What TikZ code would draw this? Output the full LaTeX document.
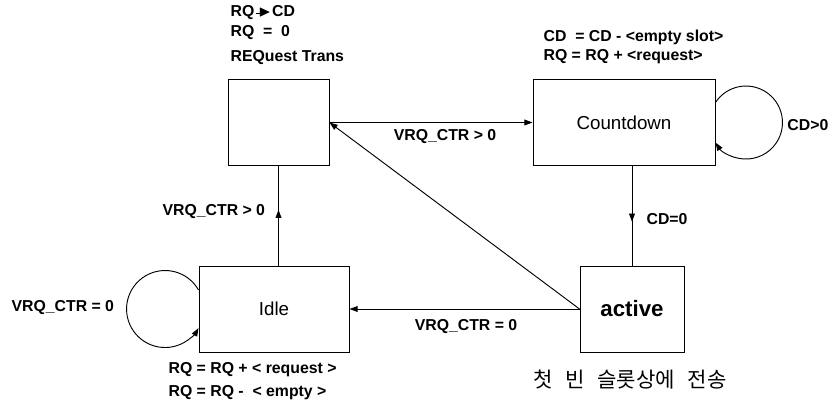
\documentclass[tikz,border=0pt]{standalone}
\usepackage{amssymb}
\usepackage{fontspec}
\setmainfont{Liberation Sans}
\newfontfamily\kor{Noto Sans CJK KR}
\usetikzlibrary{arrows.meta,decorations.markings}

\begin{document}
\begin{tikzpicture}[
    line width=0.8pt,
    >={Triangle[length=7pt,width=5pt]},
    state/.style={draw, minimum height=2.58cm, inner sep=0pt},
    lbl/.style={font=\fontsize{13.5}{16}\selectfont\bfseries, inner sep=1pt},
    midarrow/.style={postaction={decorate},
        decoration={markings, mark=at position 0.56 with {\arrow{Triangle[length=7pt,width=5pt]}}}}
]
    \useasboundingbox (0,0) rectangle (24.93,12.12);

    % states
    \node[state, minimum width=3.03cm] (req) at (8.355,8.445) {};
    \node[state, minimum width=5.46cm, font=\fontsize{16}{18}\selectfont] (cd) at (18.72,8.445) {Countdown};
    \node[state, minimum width=4.5cm, font=\fontsize{16}{18}\selectfont] (idle) at (8.22,2.85) {Idle};
    \node[state, minimum width=3.12cm, font=\fontsize{19}{22}\selectfont\bfseries] (active) at (18.96,2.85) {active};

    % transitions
    \draw[->] (req.east) -- (cd.west);
    \draw[midarrow] (active.north |- cd.south) -- (active.north);
    \draw[->] (active.west) -- (idle.east);
    \draw[->] (active.west) -- (req.east);
    \draw[midarrow] (req.south |- idle.north) -- (req.south);
    \draw[->] ([yshift=0.6cm]cd.east) arc[start angle=146.7, end angle=-146.7, radius=1.095cm];
    \draw[->] ([yshift=0.57cm]idle.west) arc[start angle=29.6, end angle=330.4, radius=1.155cm];

    % labels
    \node[lbl, anchor=west] (rqcd) at (6.87,11.73) {RQ\kern1pt\rule[0.2em]{0.4em}{0.9pt}\kern-0.2em$\blacktriangleright$\kern1pt CD};
    \node[lbl, anchor=west] (rqzero) at (6.87,11.13) {RQ\ \ =\ \ 0};
    \node[lbl, anchor=west] (reqname) at (6.87,10.38) {REQuest Trans};
    \node[lbl, anchor=west] (cdupd) at (16.26,11.01) {CD\ \ = CD - <empty slot>};
    \node[lbl, anchor=west] (rqupd) at (16.26,10.41) {RQ = RQ + <request>};
    \node[lbl] (gotrans) at (13.35,8.01) {VRQ\_CTR > 0};
    \node[lbl, anchor=east] (cdpos) at (24.9,8.37) {CD>0};
    \node[lbl, anchor=west] (cdzero) at (19.35,5.55) {CD=0};
    \node[lbl, anchor=east] (goreq) at (8.0,5.76) {VRQ\_CTR > 0};
    \node[lbl, anchor=west] (stayidle) at (0.3,2.88) {VRQ\_CTR = 0};
    \node[lbl] (goidle) at (13.98,2.31) {VRQ\_CTR = 0};
    \node[lbl, anchor=west] (idleadd) at (5.01,1.02) {RQ = RQ + < request >};
    \node[lbl, anchor=west] (idlesub) at (5.01,0.33) {RQ = RQ -\ \ < empty >};
    \node[font=\kor\fontsize{18}{20}\selectfont] (sendnote) at (18.9,0.72) {첫\hspace{0.6em}빈\hspace{0.6em}슬롯상에\hspace{0.6em}전송};
\end{tikzpicture}
\end{document}
